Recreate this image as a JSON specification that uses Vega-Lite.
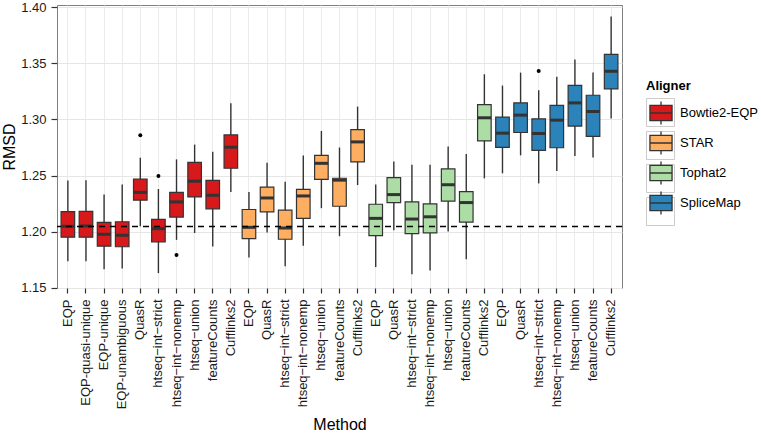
{
  "$schema": "https://vega.github.io/schema/vega-lite/v6.json",
  "width": 565,
  "height": 283,
  "autosize": {"type": "none"},
  "padding": {"left": 57, "top": 5, "right": 139, "bottom": 146},
  "background": "white",
  "config": {
    "font": "Liberation Sans",
    "view": {"stroke": "#7f7f7f", "strokeWidth": 1},
    "axis": {
      "domain": false,
      "labelFont": "Liberation Sans",
      "titleFont": "Liberation Sans",
      "labelColor": "#1a1a1a",
      "titleColor": "#000000",
      "titleFontWeight": "normal",
      "tickColor": "#333333",
      "labelFontSize": 13,
      "titleFontSize": 16
    },
    "legend": {"labelFont": "Liberation Sans", "titleFont": "Liberation Sans"}
  },
  "data": {
    "values": [
      {"key": "B:EQP", "method": "EQP", "aligner": "Bowtie2-EQP", "lo": 1.1735, "q1": 1.195, "med": 1.2047, "q3": 1.2179, "hi": 1.2456},
      {"key": "B:EQP-quasi-unique", "method": "EQP-quasi-unique", "aligner": "Bowtie2-EQP", "lo": 1.1735, "q1": 1.195, "med": 1.205, "q3": 1.218, "hi": 1.2459},
      {"key": "B:EQP-unique", "method": "EQP-unique", "aligner": "Bowtie2-EQP", "lo": 1.1665, "q1": 1.187, "med": 1.1976, "q3": 1.2082, "hi": 1.233},
      {"key": "B:EQP-unambiguous", "method": "EQP-unambiguous", "aligner": "Bowtie2-EQP", "lo": 1.167, "q1": 1.1865, "med": 1.1968, "q3": 1.2088, "hi": 1.242},
      {"key": "B:QuasR", "method": "QuasR", "aligner": "Bowtie2-EQP", "lo": 1.2047, "q1": 1.228, "med": 1.235, "q3": 1.2468, "hi": 1.2659, "out": 1.2859},
      {"key": "B:htseq\u2212int\u2212strict", "method": "htseq-int-strict", "aligner": "Bowtie2-EQP", "lo": 1.163, "q1": 1.1909, "med": 1.2026, "q3": 1.2109, "hi": 1.238, "out": 1.2497},
      {"key": "B:htseq\u2212int\u2212nonemp", "method": "htseq-int-nonemp", "aligner": "Bowtie2-EQP", "lo": 1.1926, "q1": 1.213, "med": 1.2265, "q3": 1.235, "hi": 1.2644, "out": 1.1791},
      {"key": "B:htseq\u2212union", "method": "htseq-union", "aligner": "Bowtie2-EQP", "lo": 1.1988, "q1": 1.2309, "med": 1.245, "q3": 1.2618, "hi": 1.2776},
      {"key": "B:featureCounts", "method": "featureCounts", "aligner": "Bowtie2-EQP", "lo": 1.1868, "q1": 1.2203, "med": 1.2324, "q3": 1.2456, "hi": 1.2712},
      {"key": "B:Cufflinks2", "method": "Cufflinks2", "aligner": "Bowtie2-EQP", "lo": 1.2353, "q1": 1.2565, "med": 1.2753, "q3": 1.2862, "hi": 1.3144},
      {"key": "S:EQP", "method": "EQP", "aligner": "STAR", "lo": 1.1768, "q1": 1.1938, "med": 1.2038, "q3": 1.2197, "hi": 1.2353},
      {"key": "S:QuasR", "method": "QuasR", "aligner": "STAR", "lo": 1.1991, "q1": 1.2176, "med": 1.23, "q3": 1.2397, "hi": 1.2615},
      {"key": "S:htseq\u2212int\u2212strict", "method": "htseq-int-strict", "aligner": "STAR", "lo": 1.1691, "q1": 1.1932, "med": 1.2032, "q3": 1.2191, "hi": 1.2444},
      {"key": "S:htseq\u2212int\u2212nonemp", "method": "htseq-int-nonemp", "aligner": "STAR", "lo": 1.1874, "q1": 1.2118, "med": 1.2318, "q3": 1.2376, "hi": 1.2679},
      {"key": "S:htseq\u2212union", "method": "htseq-union", "aligner": "STAR", "lo": 1.2209, "q1": 1.2465, "med": 1.2609, "q3": 1.2679, "hi": 1.2897},
      {"key": "S:featureCounts", "method": "featureCounts", "aligner": "STAR", "lo": 1.1959, "q1": 1.2226, "med": 1.2459, "q3": 1.2476, "hi": 1.275},
      {"key": "S:Cufflinks2", "method": "Cufflinks2", "aligner": "STAR", "lo": 1.2415, "q1": 1.2621, "med": 1.28, "q3": 1.2909, "hi": 1.3115},
      {"key": "T:EQP", "method": "EQP", "aligner": "Tophat2", "lo": 1.1685, "q1": 1.1965, "med": 1.2118, "q3": 1.2244, "hi": 1.2421},
      {"key": "T:QuasR", "method": "QuasR", "aligner": "Tophat2", "lo": 1.2012, "q1": 1.2259, "med": 1.233, "q3": 1.2482, "hi": 1.2626},
      {"key": "T:htseq\u2212int\u2212strict", "method": "htseq-int-strict", "aligner": "Tophat2", "lo": 1.162, "q1": 1.1982, "med": 1.2112, "q3": 1.2265, "hi": 1.2597},
      {"key": "T:htseq\u2212int\u2212nonemp", "method": "htseq-int-nonemp", "aligner": "Tophat2", "lo": 1.1653, "q1": 1.1988, "med": 1.2132, "q3": 1.2247, "hi": 1.2597},
      {"key": "T:htseq\u2212union", "method": "htseq-union", "aligner": "Tophat2", "lo": 1.2, "q1": 1.2271, "med": 1.2418, "q3": 1.2559, "hi": 1.2759},
      {"key": "T:featureCounts", "method": "featureCounts", "aligner": "Tophat2", "lo": 1.1753, "q1": 1.2085, "med": 1.2259, "q3": 1.2356, "hi": 1.2691},
      {"key": "T:Cufflinks2", "method": "Cufflinks2", "aligner": "Tophat2", "lo": 1.2475, "q1": 1.281, "med": 1.3015, "q3": 1.3133, "hi": 1.3403},
      {"key": "M:EQP", "method": "EQP", "aligner": "SpliceMap", "lo": 1.252, "q1": 1.2751, "med": 1.2878, "q3": 1.3021, "hi": 1.3302},
      {"key": "M:QuasR", "method": "QuasR", "aligner": "SpliceMap", "lo": 1.268, "q1": 1.2884, "med": 1.3039, "q3": 1.3148, "hi": 1.3418},
      {"key": "M:htseq\u2212int\u2212strict", "method": "htseq-int-strict", "aligner": "SpliceMap", "lo": 1.243, "q1": 1.2724, "med": 1.2875, "q3": 1.3006, "hi": 1.3261, "out": 1.3433},
      {"key": "M:htseq\u2212int\u2212nonemp", "method": "htseq-int-nonemp", "aligner": "SpliceMap", "lo": 1.254, "q1": 1.2748, "med": 1.2994, "q3": 1.3125, "hi": 1.338},
      {"key": "M:htseq\u2212union", "method": "htseq-union", "aligner": "SpliceMap", "lo": 1.2674, "q1": 1.2941, "med": 1.3148, "q3": 1.3305, "hi": 1.3534},
      {"key": "M:featureCounts", "method": "featureCounts", "aligner": "SpliceMap", "lo": 1.2662, "q1": 1.2849, "med": 1.3071, "q3": 1.3216, "hi": 1.3418},
      {"key": "M:Cufflinks2", "method": "Cufflinks2", "aligner": "SpliceMap", "lo": 1.3009, "q1": 1.3273, "med": 1.343, "q3": 1.3581, "hi": 1.3919}
    ]
  },
  "layer": [
    {
      "mark": {"type": "rule", "color": "#333333", "strokeWidth": 1.4},
      "encoding": {
        "x": {
          "field": "key",
          "type": "nominal",
          "scale": {
            "domain": ["B:EQP", "B:EQP-quasi-unique", "B:EQP-unique", "B:EQP-unambiguous", "B:QuasR", "B:htseq\u2212int\u2212strict", "B:htseq\u2212int\u2212nonemp", "B:htseq\u2212union", "B:featureCounts", "B:Cufflinks2",
                       "S:EQP", "S:QuasR", "S:htseq\u2212int\u2212strict", "S:htseq\u2212int\u2212nonemp", "S:htseq\u2212union", "S:featureCounts", "S:Cufflinks2",
                       "T:EQP", "T:QuasR", "T:htseq\u2212int\u2212strict", "T:htseq\u2212int\u2212nonemp", "T:htseq\u2212union", "T:featureCounts", "T:Cufflinks2",
                       "M:EQP", "M:QuasR", "M:htseq\u2212int\u2212strict", "M:htseq\u2212int\u2212nonemp", "M:htseq\u2212union", "M:featureCounts", "M:Cufflinks2"],
            "paddingInner": 0,
            "paddingOuter": 0.1
          },
          "axis": {
            "title": "Method",
            "labelExpr": "substring(datum.label, 2)",
            "labelAngle": 270,
            "labelAlign": "right",
            "labelBaseline": "middle",
            "bandPosition": 0.5,
            "grid": true,
            "gridColor": "#ebebeb",
            "gridWidth": 1,
            "tickSize": 5,
            "tickWidth": 1.2,
            "labelPadding": 6,
            "titlePadding": 8
          }
        },
        "y": {
          "field": "lo",
          "type": "quantitative",
          "scale": {"domain": [1.1497, 1.4021], "nice": false, "zero": false},
          "axis": {
            "title": "RMSD",
            "values": [1.15, 1.175, 1.2, 1.225, 1.25, 1.275, 1.3, 1.325, 1.35, 1.375, 1.4],
            "labelExpr": "round(datum.value*1000) % 50 == 0 ? format(datum.value, '.2f') : ''",
            "gridColor": {"condition": {"test": "round(datum.value*1000) % 50 != 0", "value": "#f4f4f4"}, "value": "#e6e6e6"},
            "tickOpacity": {"condition": {"test": "round(datum.value*1000) % 50 != 0", "value": 0}, "value": 1},
            "tickSize": 6,
            "tickWidth": 1.2,
            "labelPadding": 5,
            "titlePadding": 3
          }
        },
        "y2": {"field": "hi"}
      }
    },
    {
      "mark": {"type": "point", "opacity": 0, "filled": false, "color": "#cccccc", "strokeWidth": 1},
      "encoding": {
        "x": {"field": "key", "type": "nominal"},
        "y": {"field": "med", "type": "quantitative"},
        "shape": {
          "field": "aligner",
          "type": "nominal",
          "scale": {"range": ["square"]},
          "legend": {
            "title": "Aligner",
            "orient": "none",
            "legendX": 589,
            "legendY": 75,
            "padding": 0,
            "symbolSize": 784,
            "symbolStrokeColor": "#cccccc",
            "symbolFillColor": "#ffffff",
            "symbolStrokeWidth": 1,
            "symbolOpacity": 1,
            "rowPadding": 0,
            "labelOffset": 4,
            "labelFontSize": 13,
            "labelExpr": "''",
            "titleFontSize": 13,
            "titleFontWeight": "bold",
            "titleColor": "rgba(0,0,0,0)",
            "titlePadding": 5,
            "encode": {
              "symbols": {
                "update": {
                  "opacity": {"value": 1},
                  "fill": {"value": "#ffffff"},
                  "stroke": {"value": "#cccccc"},
                  "strokeWidth": {"value": 1},
                  "size": {"value": 784}
                }
              }
            }
          }
        }
      }
    },
    {
      "mark": {"type": "bar", "width": {"band": 0.75}, "stroke": "#333333", "strokeWidth": 1.2},
      "encoding": {
        "x": {"field": "key", "type": "nominal"},
        "y": {"field": "q1", "type": "quantitative"},
        "y2": {"field": "q3"},
        "fill": {
          "field": "aligner",
          "type": "nominal",
          "scale": {"domain": ["Bowtie2-EQP", "STAR", "Tophat2", "SpliceMap"], "range": ["#d7191c", "#fdae61", "#abdda4", "#2b83ba"]},
          "legend": {
            "title": "Aligner",
            "orient": "none",
            "legendX": 589,
            "legendY": 75,
            "padding": 0,
            "symbolType": "M-0.79,-0.54H0.79V0.54H-0.79Z M-0.79,0H0.79 M0,-0.54V-0.82 M0,0.54V0.82",
            "symbolSize": 784,
            "symbolStrokeColor": "#333333",
            "symbolStrokeWidth": 1.3,
            "symbolOpacity": 1,
            "rowPadding": 0,
            "labelOffset": 4,
            "labelFontSize": 13,
            "labelColor": "#000000",
            "titleFontSize": 13,
            "titleFontWeight": "bold",
            "titleColor": "#000000",
            "titlePadding": 5
          }
        }
      }
    },
    {
      "mark": {"type": "tick", "color": "#333333", "thickness": 3, "size": 13.6, "opacity": 1},
      "encoding": {
        "x": {"field": "key", "type": "nominal"},
        "y": {"field": "med", "type": "quantitative"}
      }
    },
    {
      "mark": {"type": "point", "filled": true, "color": "#000000", "size": 16, "opacity": 1},
      "encoding": {
        "x": {"field": "key", "type": "nominal"},
        "y": {"field": "out", "type": "quantitative"}
      }
    },
    {
      "data": {"values": [{}]},
      "mark": {"type": "rule", "color": "#000000", "strokeDash": [6, 5], "strokeWidth": 1.4},
      "encoding": {"y": {"datum": 1.2045}}
    }
  ]
}
